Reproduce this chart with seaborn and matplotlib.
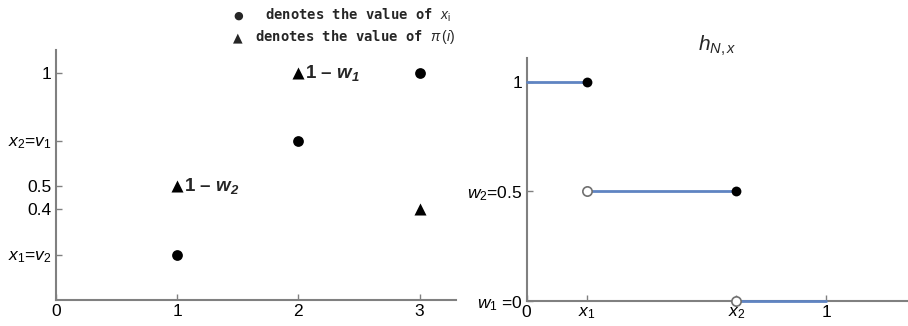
import numpy as np
import pandas as pd
import matplotlib
matplotlib.use("Agg")
import matplotlib.pyplot as plt
import seaborn as sns

sns.set_theme(style="white")
plt.rcParams['font.family'] = ['Liberation Sans', 'DejaVu Sans']
plt.rcParams['mathtext.fontset'] = 'custom'
plt.rcParams['mathtext.rm'] = 'Liberation Sans'
plt.rcParams['mathtext.it'] = 'Liberation Sans:italic'
plt.rcParams['mathtext.bf'] = 'Liberation Sans:bold:italic'

# ---- data: left panel ----
idx = [1, 2, 3]
x_vals = [0.2, 0.7, 1.0]          # circles: value of x_i
pi_vals = [0.5, 1.0, 0.4]         # triangles: value of pi(i)
left_yticks = [0.2, 0.4, 0.5, 0.7, 1.0]
left_yticklabels = ["$x_1$=$v_2$", "0.4", "0.5", "$x_2$=$v_1$", "1"]
left_xticks = [0, 1, 2, 3]

# ---- data: right panel (step function h_{N,x}) ----
seg_start = [0.0, 0.2, 0.7]
seg_end = [0.2, 0.7, 1.0]
seg_level = [1.0, 0.5, 0.0]
closed_x = [0.2, 0.7]
closed_y = [1.0, 0.5]
open_x = [0.2, 0.7]
open_y = [0.5, 0.0]
right_xticks = [0, 0.2, 0.7, 1.0]
right_xticklabels = ["0", "$x_1$", "$x_2$", "1"]
right_yticks = [0.0, 0.5, 1.0]
right_yticklabels = ["$w_1$ =0", "$w_2$=0.5", "1"]

fig = plt.figure(figsize=(9.08, 3.26), dpi=100)
axL = fig.add_axes([0.0617, 0.0798, 0.4405, 0.767])
axR = fig.add_axes([0.580, 0.077, 0.419, 0.745])

spine_c = "#808080"

# left scatter
dfc = pd.DataFrame({"i": idx, "v": x_vals})
dft = pd.DataFrame({"i": idx, "v": pi_vals})
sns.scatterplot(data=dfc, x="i", y="v", ax=axL, marker="o", s=60,
                color="black", edgecolor="black", linewidth=0, zorder=3)
sns.scatterplot(data=dft, x="i", y="v", ax=axL, marker="^", s=75,
                color="black", edgecolor="black", linewidth=0, zorder=3)
axL.annotate(r"1 – $\mathbf{w_1}$", (idx[1], pi_vals[1]), xytext=(5, 0),
             textcoords="offset points", ha="left", va="center",
             fontsize=13.5, fontweight="bold")
axL.annotate(r"1 – $\mathbf{w_2}$", (idx[0], pi_vals[0]), xytext=(5, 0),
             textcoords="offset points", ha="left", va="center",
             fontsize=13.5, fontweight="bold")
axL.set_xlim(0, 3.3)
axL.set_ylim(0, 1.1)
axL.set_xticks(left_xticks)
axL.set_xticklabels([str(t) for t in left_xticks])
axL.set_yticks(left_yticks)
axL.set_yticklabels(left_yticklabels)
axL.set_xlabel("")
axL.set_ylabel("")

# right step function
rows = []
for k, (a, b, lv) in enumerate(zip(seg_start, seg_end, seg_level)):
    rows.append({"seg": k, "x": a, "h": lv})
    rows.append({"seg": k, "x": b, "h": lv})
dfs = pd.DataFrame(rows)
sns.lineplot(data=dfs, x="x", y="h", units="seg", estimator=None, ax=axR,
             color="#5f84c2", linewidth=2, zorder=5, clip_on=False)
sns.scatterplot(x=closed_x, y=closed_y, ax=axR, marker="o", s=50,
                color="black", edgecolor="black", linewidth=0, zorder=6,
                clip_on=False)
sns.scatterplot(x=open_x, y=open_y, ax=axR, marker="o", s=45,
                color="white", edgecolor="#707070", linewidth=1.2, zorder=6,
                clip_on=False)
axR.set_xlim(0, 1.27)
axR.set_ylim(0, 1.11)
axR.set_xticks(right_xticks)
axR.set_xticklabels(right_xticklabels)
axR.set_yticks(right_yticks)
axR.set_yticklabels(right_yticklabels)
axR.set_xlabel("")
axR.set_ylabel("")
axR.set_title("$h_{N,x}$", fontsize=15, pad=5)

for ax in (axL, axR):
    sns.despine(ax=ax)
    for sp in ("left", "bottom"):
        ax.spines[sp].set_color(spine_c)
        ax.spines[sp].set_linewidth(1.5)
    ax.tick_params(direction="in", length=4, width=1, color=spine_c,
                   labelsize=12.5, pad=3, labelcolor="black",
                   bottom=True, left=True)

# legend-like header
fig.text(0.262, 0.953, "●", fontsize=8, ha="center", va="center",
         family=["DejaVu Sans"])
fig.text(0.292, 0.953, r"denotes the value of $x_\mathrm{i}$",
         family=["DejaVu Sans Mono"], fontweight="bold", fontsize=10,
         ha="left", va="center")
fig.text(0.262, 0.885, "▲", fontsize=9, ha="center", va="center",
         family=["DejaVu Sans"])
fig.text(0.281, 0.885, r"denotes the value of $\pi\,(i)$",
         family=["DejaVu Sans Mono"], fontweight="bold", fontsize=10,
         ha="left", va="center")

fig.savefig("out.png", dpi=100)
